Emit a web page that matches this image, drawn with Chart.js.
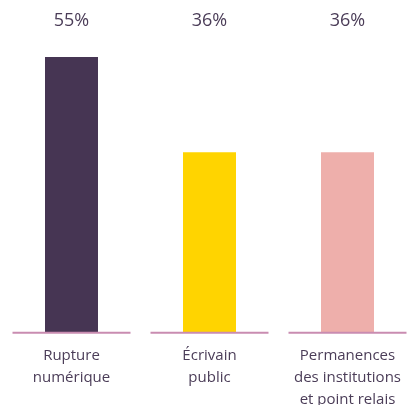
<!DOCTYPE html>
<html>
<head>
<meta charset="utf-8">
<script src="https://cdn.jsdelivr.net/npm/chart.js@4/dist/chart.umd.min.js"></script>
<style>
  html, body { margin: 0; padding: 0; background: #fff; overflow: hidden; }
  #wrap { position: relative; width: 420px; height: 415px; }
</style>
</head>
<body>
<div id="wrap"><canvas id="chart"></canvas></div>
<script>
// data
const categories = [
  ["Rupture", "numérique"],
  ["Écrivain", "public"],
  ["Permanences", "des institutions", "et point relais"]
];
const values = [55, 36, 36];
const valueLabels = ["55%", "36%", "36%"];
const barColors = ["#463553", "#FFD400", "#EEAFAB"];

const textColor = "#4b3d58";
const lineColor = "#c98cb1";

// baseline segments + value labels on top
const decorations = {
  id: "decorations",
  afterDatasetsDraw(chart) {
    const ctx = chart.ctx;
    const x = chart.scales.x;
    const y = chart.scales.y;
    const step = x.getPixelForValue(1) - x.getPixelForValue(0);
    const half = step * 0.855 / 2;
    const base = y.getPixelForValue(0);

    ctx.save();
    ctx.strokeStyle = lineColor;
    ctx.lineWidth = 2;
    categories.forEach((c, i) => {
      const cx = x.getPixelForValue(i);
      ctx.beginPath();
      ctx.moveTo(cx - half, base);
      ctx.lineTo(cx + half, base);
      ctx.stroke();
    });

    ctx.fillStyle = textColor;
    ctx.font = "18px 'Open Sans'";
    ctx.textAlign = "center";
    ctx.textBaseline = "middle";
    valueLabels.forEach((t, i) => {
      ctx.fillText(t, x.getPixelForValue(i), 21);
    });
    ctx.restore();
  }
};

new Chart(document.getElementById("chart"), {
  type: "bar",
  data: {
    labels: categories,
    datasets: [{
      data: values,
      backgroundColor: barColors,
      borderWidth: 0,
      barPercentage: 1,
      categoryPercentage: 0.384
    }]
  },
  options: {
    responsive: true,
    maintainAspectRatio: false,
    animation: false,
    layout: {
      padding: { top: 32, left: 2.5, right: 3.5, bottom: 0 }
    },
    plugins: {
      legend: { display: false },
      tooltip: { enabled: false }
    },
    scales: {
      x: {
        grid: { display: false },
        border: { display: false },
        ticks: {
          color: textColor,
          padding: 4,
          maxRotation: 0,
          font: { family: "'Open Sans'", size: 15, lineHeight: 1.47 }
        }
      },
      y: {
        display: false,
        min: 0,
        max: 60
      }
    }
  },
  plugins: [decorations]
});
</script>
</body>
</html>
